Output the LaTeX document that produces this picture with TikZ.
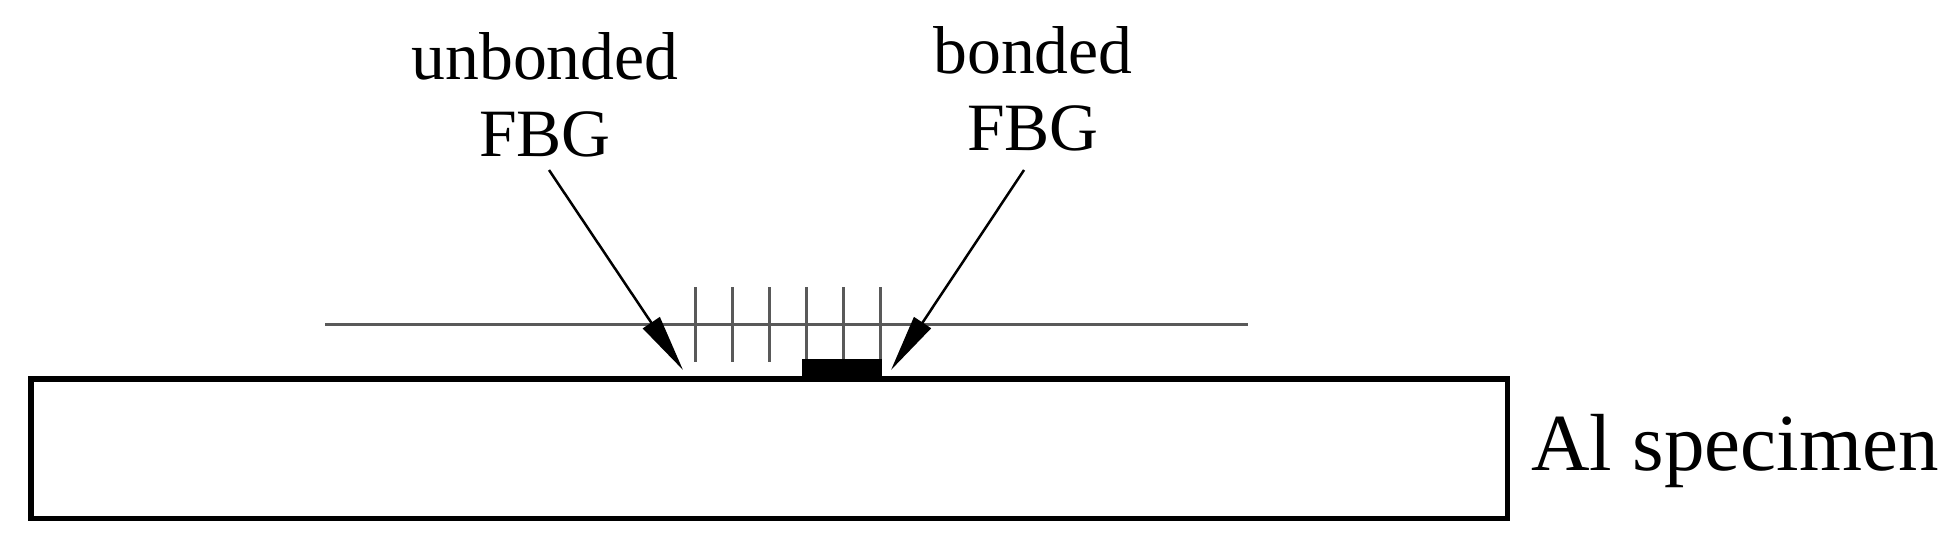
\documentclass[tikz,border=0pt]{standalone}
\usepackage{fontspec}
\setmainfont{Liberation Serif}
\usetikzlibrary{arrows.meta,positioning}

\begin{document}
\begin{tikzpicture}[x=1pt,y=-1pt,>={Triangle[length=57pt,width=20pt]},semithick]
	\tikzset{label text/.style={font=\fontsize{67.7}{77}\selectfont,align=center,inner sep=0pt}}
	\tikzset{fibre/.style={draw=black!65,line width=3pt}}
	\useasboundingbox (0,0) rectangle (1958,555);

	\node[draw,line width=5.5pt,minimum width=1476.5pt,minimum height=139.5pt,inner sep=0pt,anchor=north west] (specimen) at (28.25,376) {};
	\node[label text,font=\fontsize{81}{90}\selectfont,anchor=base west] (name) at (1531,470.5) {Al specimen};
	\node[label text,anchor=base] (unbonded) at (545,156) {unbonded\\FBG};
	\node[label text,anchor=base] (bonded) at (1033,150.5) {bonded\\FBG};

	\coordinate (fibreL) at (325,324);
	\coordinate (fibreR) at (1248,324);
	\draw[fibre] (fibreL) -- (fibreR);

	% grating lines
	\foreach \x in {695,732,769,806,843,880}
		\draw[fibre] (\x,287) -- (\x,362);

	\node[fill=black,minimum width=80pt,minimum height=21pt,inner sep=0pt] (bond) at (842,369.5) {};

	\coordinate (startL) at (549,170);
	\coordinate (startR) at (1024,170);
	\coordinate (tipL) at (683,370);
	\coordinate (tipR) at (891,370);
	\draw[->,line width=2.5pt] (startL) -- (tipL);
	\draw[->,line width=2.5pt] (startR) -- (tipR);
\end{tikzpicture}
\end{document}
